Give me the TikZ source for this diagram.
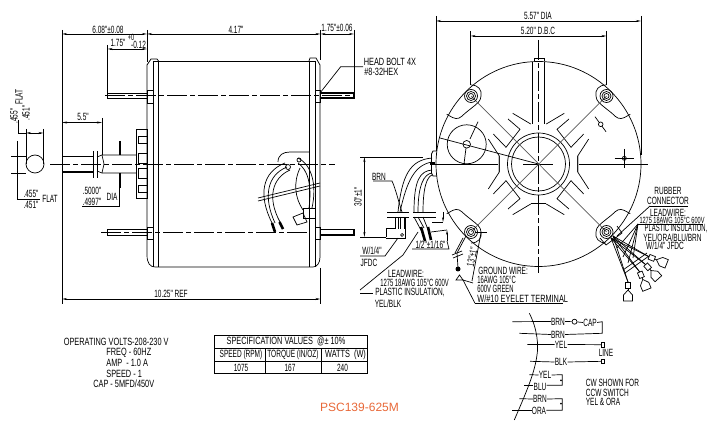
\documentclass[tikz,border=0pt]{standalone}
\usepackage{fontspec}
\setmainfont{Liberation Sans}
\newfontfamily\cadfont[FakeStretch=0.62]{Liberation Sans}
\newfontfamily\cadwide[FakeStretch=0.70]{Liberation Sans}
\newfontfamily\cadslim[FakeStretch=0.56]{Liberation Sans}
\usetikzlibrary{arrows.meta}
\definecolor{labelorange}{RGB}{232,104,56}
\tikzset{
  >={Stealth[length=5bp,width=2bp]},
  every path/.style={line width=0.7bp},
  lbl/.style={inner sep=0pt, font=\cadfont\fontsize{10.5bp}{11bp}\selectfont},
  lblwide/.style={inner sep=0pt, font=\cadwide\fontsize{10.5bp}{11bp}\selectfont},
  lblslim/.style={inner sep=0pt, font=\cadslim\fontsize{10.5bp}{11bp}\selectfont},
  smalllbl/.style={inner sep=0pt, font=\cadfont\fontsize{9bp}{10bp}\selectfont},
  centre/.style={dash pattern=on 20bp off 3bp on 5bp off 3bp},
  dimline/.style={<->},
  heavy/.style={line width=1.5bp},
  stub/.style={line width=2.6bp},
  greyline/.style={draw=black!65}
}
\begin{document}
\begin{tikzpicture}[x=1bp,y=-1bp]
\useasboundingbox (0,0) rectangle (720,437);

% side view: body and end bells
\draw (153,61) -- (315,61);
\draw (147,65) -- (147,255) .. controls (147,263) and (150,267) .. (155,267) -- (313,267) .. controls (317,267) and (320,263) .. (320,257) -- (320,65);
\draw (147,65) -- (151,59) -- (157,59) -- (158.5,61);
\draw (320,65) -- (316,58) -- (310,58) -- (309,61);
\foreach \x in {153,158.5,309,315} \draw (\x,61) -- (\x,267);
\draw[centre] (105,95.5) -- (354,95.5);
\draw[centre] (101,232) -- (309,232);
\draw[centre] (50,164) -- (335,164);
% bolts
\draw (107.5,93) rectangle (147,98);
\draw[heavy] (320,93) -- (354,93) -- (354,98) -- (320,98);
\draw (147,90) rectangle (153,103);
\draw (315,90) rectangle (320,102);
\draw (107.5,229.5) rectangle (147,235);
\draw[heavy] (320,229.5) -- (354,229.5) -- (354,235) -- (320,235);
\draw (147,227) rectangle (153,239);
\draw (315,227) rectangle (320,239);
% shaft and hub
\draw[heavy] (62,156.5) -- (93,156.5);
\draw[heavy] (62,172) -- (93,172);
\draw (62,156) -- (62,172);
\foreach \x in {93,97} \draw (\x,151) -- (\x,178);
\draw (97,157) -- (102,155) -- (136,155);
\draw (97,171) -- (102,173) -- (136,173);
\draw (102,155) -- (104,164) -- (102,173);
\draw[heavy] (120,141) -- (120,155);
\draw[heavy] (120,173) -- (120,188);
\draw (136,129.5) rectangle (147,198.5);
\foreach \ya/\yb in {136/143,153/163,168/178,185/192} \draw (147,\ya) -- (138.5,\ya) -- (138.5,\yb) -- (147,\yb);
% flat end of the shaft
\draw (35,164) circle (9);
\draw (11,156) -- (26,156);
\draw (11,173.5) -- (26,173.5);
\draw (17,141) -- (17,199) -- (40,199);
\draw (26,129) -- (26,164);
\draw (43.5,129) -- (43.5,164);
\draw (18,120) -- (18,133) -- (26,133);
\draw[<->] (26,133) -- (43.5,133);

% side view: wires
\draw (278,162) .. controls (278,155) and (283,152) .. (290,152) -- (309,152);
\draw (285,163) .. controls (262,172) and (258,195) .. (272,223);
\draw (287,167) .. controls (267,175) and (263,197) .. (275,223);
\draw (290,170) .. controls (272,178) and (267,198) .. (280,222);
\draw[stub] (272,223) -- (275,232);
\draw[stub] (279.5,222) -- (283,229);
\draw (298,158) .. controls (312,165) and (317,185) .. (312,208);
\draw (298,163) .. controls (308,170) and (312,185) .. (309,208);
\draw (300,168) .. controls (293,183) and (295,198) .. (303,210);
\draw (288,167) circle (2.5);
\draw (299,160) circle (2);
\draw (258,201) -- (320,186);
\draw (258,198) -- (320,183);
\draw (303,208) rectangle (315,218);
\draw (293,217) -- (303,213) -- (307,222) -- (297,225) -- cycle;

% front view
\draw (538.5,164) circle (102.5);
\draw (538.5,164) circle (31);
\draw (538.5,164) circle (27);
\foreach \sx/\sy in {1/1,-1/1,1/-1,-1/-1}{
  \begin{scope}[shift={(538.5,164)},xscale=\sx,yscale=\sy]
    \draw (-25.8,-50.7) -- (-7.8,-40);
    \draw (-30.5,-45) -- (-18.5,-34.7) -- (-32.5,-16.7) -- (-45.2,-30);
    \draw (-50.2,-25) -- (-39.2,-8) -- (-39.2,8);
    \draw (-67.5,-79) .. controls (-60,-79) and (-56.5,-74) .. (-57.5,-68) .. controls (-57.5,-63) and (-62,-60) .. (-65.2,-57.3) -- (-73.5,-50.7) .. controls (-78,-46) and (-81,-44) .. (-86,-46.5) -- (-91.8,-49.7);
  \end{scope}
}
\draw (532.5,124) -- (532.5,62);
\draw (544.5,124) -- (544.5,62);
\draw (534,61) -- (534,58.5) -- (544,58.5) -- (544,61);
\draw (530.7,203.5) -- (546.3,203.5);
\draw[centre] (538.5,40) -- (538.5,273);
\draw (432,164) -- (498,164);
\draw (579,164) -- (648,164);
\draw (523,164) -- (553,164);
\draw[greyline] (471,96) -- (606.5,232);
\draw[greyline] (606.5,96) -- (471,232);
\foreach \bx/\by in {471/96,606.5/96,471/232,606.5/232}{
  \draw (\bx,\by) circle (6.5);
  \draw (\bx,\by) circle (4.5);
  \draw (\bx,\by) circle (2.5);
}
% left boss
\draw (466.7,144.3) circle (19.5);
\draw[fill=white] (466.7,144.3) circle (3.8);
\draw (440,138) -- (538.5,164);
\draw (470,139) -- (478,121.7);
\draw (466,148) -- (464,164);
% small marks
\draw (595,116.7) -- (606,131.7);
\draw[fill=white] (600.7,124.3) circle (2.3);
\draw (614.7,158.3) -- (634.3,158.3);
\draw (624.3,149) -- (624.3,168);
\draw (624.3,158.3) circle (2);
% connector on the rim
\draw (436,151) -- (433,151) -- (431.5,154) -- (431.5,173) -- (433,176) -- (437,176);
\fill (430,162.5) rectangle (435,165.5);

% front view: left leads
\draw (432,158) .. controls (410,160) and (402,175) .. (398,212);
\draw (432,162) .. controls (415,165) and (407,180) .. (400,212);
\draw (432,170) .. controls (420,171) and (414,180) .. (414,212);
\draw (432,173) .. controls (424,174) and (418,185) .. (418,212);
\draw (432,175) .. controls (427,177) and (423,187) .. (423,212);
\draw (373,181) -- (392,181) .. controls (396,190) and (398,200) .. (402,212);
\foreach \ya in {212.5,217}{
  \draw (387,\ya) -- (409,\ya);
  \draw (413,\ya) -- (436,\ya);
}
\draw (398,217) -- (398,229);
\draw (400.5,217) -- (400.5,229);
\draw (404,217) -- (404,229);
\draw (386,237) -- (386,228) -- (395,228) -- (395,218);
\draw (386,238.5) -- (405,238.5) -- (405,218);
\draw (402,235) circle (1.5);
\draw (414,217) -- (422,232);
\draw (418,217) -- (424,228);
\draw (423,217) -- (429,232);
\draw[stub] (421,227) -- (425,241);
\draw[stub] (428,227) -- (431,240);
\draw (432,222) -- (443,222);
\draw[->] (443,212) -- (443,222);
\draw (431,232) -- (447,230);
\draw[->] (447,241) -- (447,230);
\draw (412,249) -- (449,249) -- (447,241);
\draw (360,256) -- (385,256) -- (398,238);
\draw (360,290) -- (403,255) -- (418,232);
\draw (360,293.5) -- (373,293.5);

% ground wire
\draw (466,236) -- (457,253) -- (458,268);
\draw (463,238) -- (455,253);
\draw (452,255) -- (462,251);
\draw (453,258) -- (463,254);
\fill (458,269) circle (2.5);
\draw (456,280) -- (459.5,275) -- (463,280) -- cycle;
\draw (463,280) -- (473,283);
\draw (475,303.3) -- (463,280);
\draw (475,303.3) -- (563,303.3);
\draw (481,233) -- (472,281);
\draw (475,232) -- (487,232);

% right leads
\draw (617,226) -- (622,233) -- (606,245) -- (600,238);
\foreach \i/\px/\py/\prot in {1/628/296/0,2/645/285/22,3/655/275/42,4/662/262/68}{
  \begin{scope}[shift={(\px,\py)},rotate=\prot]
    \draw (0,-6) -- (4.5,-1) -- (4.5,5) -- (-4.5,5) -- (-4.5,-1) -- cycle;
    \draw (-2.5,-14) rectangle (2.5,-8);
    \draw (0,-8) -- (0,-6);
    \coordinate (plugtop\i) at (0,-14);
  \end{scope}
  \draw (613,236) -- (plugtop\i);
  \draw (611,238) -- (plugtop\i);
}
\draw (623,270) -- (647,253);
\draw (625,273) -- (649,256);
\draw (650,206) -- (688,206);
\draw (650,206) -- (617,236);
\draw (638,224) -- (703,224);
\foreach \fx/\fy in {617/248,623/257,628/263,633/258} \draw (638,224) -- (\fx,\fy);

% dimensions
\draw (62,30) -- (62,304);
\draw (147,30) -- (147,62);
\draw (320.5,30) -- (320.5,60);
\draw (354,30) -- (354,92);
\draw[dimline] (62,34) -- (147,34);
\draw[dimline] (147,34) -- (320.5,34);
\draw[dimline] (320.5,34) -- (354,34);
\draw (107.5,45) -- (107.5,93);
\draw[dimline] (107.5,49) -- (147,49);
\draw[dimline] (62,122.5) -- (102,122.5);
\draw (102,118) -- (102,155);
\draw (82,206) -- (119.5,206) -- (119.5,188);
\draw[dimline] (62,299) -- (320.5,299);
\draw (320.5,268) -- (320.5,304);
\draw (320,93) -- (340.7,66.7) -- (363,66.7);
\draw[dimline] (436,21) -- (641,21);
\draw (436,16) -- (436,151);
\draw (641,16) -- (641,155);
\draw[dimline] (470.5,36) -- (606.5,36);
\draw (470.5,31) -- (470.5,85);
\draw (606.5,31) -- (606.5,85);
\draw[dimline] (364.4,157) -- (364.4,237);
\draw (360,157) -- (423,157);
\draw (360,237) -- (386,237);

% side view labels
\node[lbl] (dimbell) at (108,29.5) {6.08"±0.08};
\node[lbl] (dimbody) at (236,29.5) {4.17"};
\node[lbl] (dimstud) at (337,27.5) {1.75"±0.06};
\node[lbl] (dimbolt) at (118,42.5) {1.75"};
\node[smalllbl] (tolup) at (131,37) {+0};
\node[lbl] (toldown) at (138.5,44.5) {-0.12};
\node[lbl] (dimshaft) at (83,117) {5.5"};
\node[lbl] (diaup) at (92,190.5) {.5000"};
\node[lbl] (diadown) at (92,202) {.4997"};
\node[lbl] (dialbl) at (112,197) {DIA};
\node[lbl,rotate=90] (flatup) at (19,97) {FLAT};
\node[lbl,rotate=90] (flatupa) at (14,116) {.455"};
\node[lbl,rotate=90] (flatupb) at (26,113) {.451"};
\node[lbl] (flatlowa) at (31,193.5) {.455"};
\node[lbl] (flatlowb) at (31,205) {.451"};
\node[lbl] (flatlow) at (50,199) {FLAT};
\node[lbl] (dimref) at (171,294) {10.25" REF};
\node[lblwide,anchor=west] (headbolt) at (363.5,62) {HEAD BOLT 4X};
\node[lblwide,anchor=west] (headsize) at (364,72) {\#8-32HEX};

% front view labels
\node[lbl] (dimdia) at (538,16) {5.57" DIA};
\node[lbl] (dimdbc) at (538,31) {5.20" D.B.C};
\node[lbl] (brnlead) at (379,177) {BRN};
\node[lbl,rotate=90] (dimlead) at (358,197) {30"±1"};
\node[lbl,anchor=west] (wlead) at (362,251) {W/1/4"};
\node[lbl] (jfdc) at (369,262.5) {JFDC};
\node[lbl] (dimhalf) at (430.5,244.5) {1/2"±1/16"};
\node[lbl] (lwhead) at (406,274) {LEADWIRE:};
\node[lblslim] (lwspec) at (414.5,283) {1275 18AWG 105°C 600V};
\node[lbl] (lwins) at (410,292.5) {PLASTIC INSULATION,};
\node[lbl] (lwcol) at (388,303.5) {YEL/BLK};
\node[lbl,rotate=78] (dimground) at (472,257) {13"±1"};
\node[lbl,anchor=west] (gnda) at (478,271) {GROUND WIRE:};
\node[lblslim,anchor=west] (gndb) at (477,280) {16AWG 105°C};
\node[lblslim,anchor=west] (gndc) at (477,289) {600V GREEN};
\node[lblwide,anchor=west] (gndd) at (477,298.5) {W/\#10 EYELET TERMINAL};
\node[lbl] (rubbera) at (668,190.5) {RUBBER};
\node[lbl] (rubberb) at (668,200.5) {CONNECTOR};
\node[lbl] (rlwhead) at (668,212.5) {LEADWIRE:};
\node[smalllbl] (rlwspec) at (672,220) {1275 18AWG 105°C 600V};
\node[lblslim] (rlwins) at (676,229) {PLASTIC INSULATION,};
\node[lbl] (rlwcol) at (672.5,237.5) {YEL/ORA/BLU/BRN};
\node[lbl] (rlwjf) at (665,246) {W/1/4" JFDC};

% ratings
\node[lblwide,anchor=west] (opvolts) at (63.5,341.5) {OPERATING VOLTS-208-230 V};
\node[lblwide,anchor=west] (opfreq) at (106,352.5) {FREQ - 60HZ};
\node[lblwide,anchor=west] (opamp) at (106,363) {AMP\ \ - 1.0 A};
\node[lblwide,anchor=west] (opspeed) at (106,373.5) {SPEED - 1};
\node[lblwide,anchor=west] (opcap) at (93,384) {CAP - 5MFD/450V};

% specification table
\draw (214.5,335) rectangle (367.5,373.5);
\draw (214.5,348.5) -- (367.5,348.5);
\draw (214.5,361.5) -- (367.5,361.5);
\draw (265.3,348.5) -- (265.3,373.5);
\draw (321.7,348.5) -- (321.7,373.5);
\node[lblwide] (spectitle) at (286,341.5) {SPECIFICATION VALUES\ \ @± 10\%};
\node[lbl] (specspeed) at (241,355) {SPEED (RPM)};
\node[lbl] (spectorque) at (293,355) {TORQUE (IN/OZ)};
\node[lblwide] (specwatts) at (345.5,355) {WATTS\ \ (W)};
\node[lbl] (valspeed) at (241,367.5) {1075};
\node[lbl] (valtorque) at (290,367.5) {167};
\node[lbl] (valwatts) at (342.5,367.5) {240};
\node[inner sep=0pt,text=labelorange,font=\fontsize{12bp}{13bp}\selectfont] (partno) at (359.5,407) {PSC139-625M};

% wiring schematic
\draw (529.3,313.3) .. controls (537,328) and (539,345) .. (536.7,357) .. controls (534,375) and (525,395) .. (514.3,420);
\node[lbl] (sbrna) at (558,321.5) {BRN};
\node[lbl] (scap) at (590,322.5) {CAP};
\node[lbl] (sbrnb) at (558,334.5) {BRN};
\node[lbl] (syela) at (561,344.5) {YEL};
\node[lbl] (sline) at (606,353) {LINE};
\node[lbl] (sblk) at (561,362) {BLK};
\node[lbl] (syelb) at (545,375) {YEL};
\node[lbl] (sblu) at (540,387) {BLU};
\node[lbl] (sbrnc) at (540,399) {BRN};
\node[lbl] (sora) at (539,411) {ORA};
\node[draw,circle,inner sep=0pt,minimum size=5bp] (capmark) at (574.5,321.7) {};
\node[draw,inner sep=0pt,minimum width=2.6bp,minimum height=4.6bp] (lineyel) at (603,344.7) {};
\node[draw,inner sep=0pt,minimum width=2.6bp,minimum height=4.6bp] (lineblk) at (603,361.3) {};
\draw (512.3,321.7) -- (sbrna.west);
\draw (sbrna.east) -- (capmark);
\draw (capmark) -- (scap.west);
\draw (scap.east) -- (602.3,321.7) -- (602.3,333.3) -- (sbrnb.east);
\draw (519.3,333.3) -- (sbrnb.west);
\draw (527.3,344.4) -- (syela.west);
\draw (syela.east) -- (lineyel);
\draw (530,361.3) -- (sblk.west);
\draw (sblk.east) -- (lineblk);
\draw (529.3,374.7) -- (syelb.west);
\draw (syelb.east) -- (562.3,374.7) -- (562.3,385.3) -- (sblu.east |- 0,385.3);
\draw (524,385.3) -- (sblu.west |- 0,385.3);
\draw (519.3,398.7) -- (sbrnc.west);
\draw (sbrnc.east) -- (562.3,398.7) -- (562.3,410.3) -- (sora.east |- 0,410.3);
\draw (512.3,410.3) -- (sora.west |- 0,410.3);
\fill (561,380.3) circle (1);
\fill (561,403.7) circle (1);
\node[lbl,anchor=west] (cwa) at (585.5,382.5) {CW SHOWN FOR};
\node[lbl,anchor=west] (cwb) at (585.5,392.5) {CCW SWITCH};
\node[lbl,anchor=west] (cwc) at (585.5,402) {YEL \& ORA};
\end{tikzpicture}
\end{document}
